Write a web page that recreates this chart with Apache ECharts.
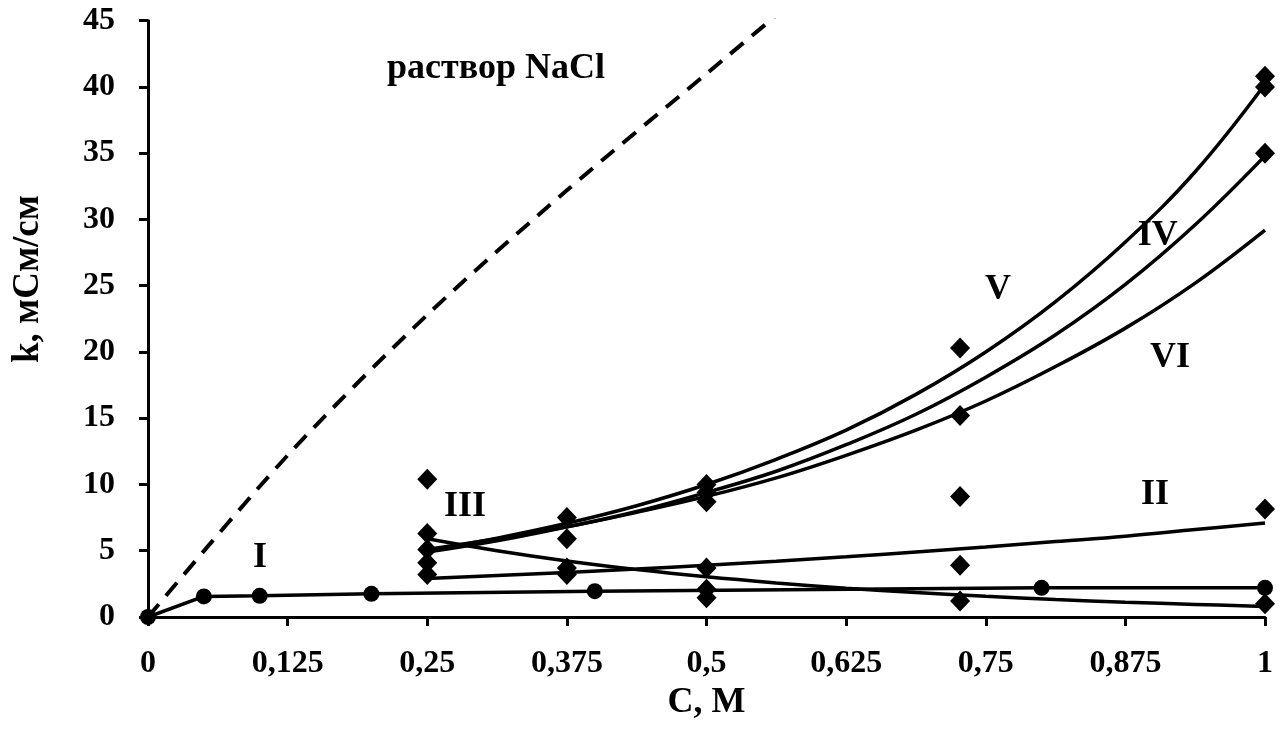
<!DOCTYPE html>
<html>
<head>
<meta charset="utf-8">
<script src="https://cdn.jsdelivr.net/npm/echarts@6/dist/echarts.min.js"></script>
<style>
html,body{margin:0;padding:0;background:#fff;}
#chart{width:1288px;height:729px;}
</style>
</head>
<body>
<div id="chart"></div>
<script>
// ---- data ----
var xTicks = [0, 0.125, 0.25, 0.375, 0.5, 0.625, 0.75, 0.875, 1];
var yTicks = [0, 5, 10, 15, 20, 25, 30, 35, 40, 45];

// NaCl solution (dashed)
var naclX = [0, 0.125, 0.25, 0.375, 0.5, 0.625];
var naclY = [0, 12.2, 22.8, 32.2, 41.0, 49.8];

// Series I (circles, polyline)
var s1X = [0, 0.05, 0.1, 0.2, 0.4, 0.8, 1];
var s1Y = [0, 1.55, 1.6, 1.75, 1.95, 2.2, 2.2];

// trend curves at these concentrations
var curveX   = [0.25, 0.3125, 0.375, 0.4375, 0.5, 0.5625, 0.625, 0.6875, 0.75, 0.8125, 0.875, 0.9375, 1];
var curveII  = [2.9, 3.13, 3.36, 3.62, 3.91, 4.21, 4.54, 4.9, 5.28, 5.69, 6.1, 6.6, 7.1];
var curveIII = [5.9, 5.0, 4.23, 3.58, 3.03, 2.57, 2.17, 1.84, 1.56, 1.32, 1.12, 0.95, 0.8];
var curveIV  = [4.9, 5.75, 6.8, 7.96, 9.4, 11.0, 13.0, 15.3, 18.1, 21.3, 25.1, 29.6, 34.8];
var curveV   = [5.0, 5.95, 7.07, 8.4, 10.0, 11.9, 14.1, 16.8, 20.0, 23.8, 28.3, 33.6, 40.2];
var curveVI  = [5.1, 5.9, 6.8, 7.9, 9.1, 10.5, 12.2, 14.1, 16.3, 18.9, 21.8, 25.2, 29.2];

// measured points (diamonds)
var diaX = [0.25, 0.25, 0.25, 0.25, 0.25,
            0.375, 0.375, 0.375, 0.375,
            0.5, 0.5, 0.5, 0.5, 0.5, 0.5,
            0.727, 0.727, 0.727, 0.727, 0.727,
            1, 1, 1, 1, 1];
var diaY = [10.4, 6.3, 5.1, 4.1, 3.2,
            7.5, 5.9, 3.7, 3.2,
            10.0, 9.4, 8.7, 3.7, 2.1, 1.45,
            20.3, 15.2, 9.1, 3.9, 1.2,
            40.8, 40.0, 35.0, 8.15, 1.0];

// annotation texts and their anchor (data coords)
var noteText = ['раствор NaCl', 'I', 'III', 'II', 'V', 'IV', 'VI'];
var noteX = [0.3115, 0.1003, 0.2838, 0.9015, 0.761, 0.904, 0.915];
var noteY = [41.4, 4.45, 8.3, 9.2, 24.7, 28.8, 19.55];

// ---- build ----
function zip(xs, ys){ return xs.map(function(x,i){ return [x, ys[i]]; }); }
var FONT = '"Liberation Serif", "Times New Roman", serif';
var BLACK = '#000';

function curve(ys){
  return {
    type:'line', data: zip(curveX, ys), smooth:0.4, showSymbol:false,
    lineStyle:{color:BLACK, width:3.5}, silent:true, z:3
  };
}

var chart = echarts.init(document.getElementById('chart'), null, {renderer:'canvas'});
chart.setOption({
  animation:false,
  backgroundColor:'#fff',
  grid:{left:148, right:23, top:20.7, bottom:112, containLabel:false},
  xAxis:{
    type:'value', min:0, max:1, interval:0.125,
    axisLine:{show:true, onZero:false, lineStyle:{color:BLACK, width:3}},
    axisTick:{show:true, inside:false, length:9, lineStyle:{color:BLACK, width:3}},
    splitLine:{show:false},
    axisLabel:{
      color:BLACK, fontFamily:FONT, fontWeight:'bold', fontSize:32, margin:31,
      formatter:function(v){ return xTicks.indexOf(v) >= 0 ? String(v).replace('.', ',') : ''; }
    },
    name:'C, M', nameLocation:'middle', nameGap:66,
    nameTextStyle:{color:BLACK, fontFamily:FONT, fontWeight:'bold', fontSize:36}
  },
  yAxis:{
    type:'value', min:0, max:45, interval:5,
    axisLine:{show:true, onZero:false, lineStyle:{color:BLACK, width:3}},
    axisTick:{show:true, inside:false, length:9, lineStyle:{color:BLACK, width:3}},
    splitLine:{show:false},
    axisLabel:{
      color:BLACK, fontFamily:FONT, fontWeight:'bold', fontSize:32, margin:33,
      formatter:function(v){ return yTicks.indexOf(v) >= 0 ? String(v) : ''; }
    }
  },
  graphic:[{
    type:'text', left:10, top:195, rotation:Math.PI/2,
    style:{text:'k, мСм/см', fill:BLACK, font:'bold 37px ' + FONT}
  }],
  series:[
    {
      type:'line', data: zip(naclX, naclY), smooth:0.3, showSymbol:false,
      lineStyle:{color:BLACK, width:4, type:[17,11]}, silent:true, z:2
    },
    {
      type:'line', data: zip(s1X, s1Y), smooth:false,
      symbol:'circle', symbolSize:16, showSymbol:true,
      itemStyle:{color:BLACK, opacity:1}, lineStyle:{color:BLACK, width:3.5}, z:4
    },
    curve(curveII), curve(curveIII), curve(curveIV), curve(curveV), curve(curveVI),
    {
      type:'scatter', data: zip(diaX, diaY), symbol:'diamond', symbolSize:[20,21],
      itemStyle:{color:BLACK, opacity:1}, z:5
    },
    {
      type:'scatter', data: noteX.map(function(x,i){ return {value:[x, noteY[i]], name:noteText[i]}; }),
      symbolSize:1, itemStyle:{color:'rgba(0,0,0,0)', opacity:1}, silent:true, z:6,
      label:{show:true, position:'inside', formatter:'{b}', color:BLACK, opacity:1,
             fontFamily:FONT, fontWeight:'bold', fontSize:36}
    }
  ]
});
</script>
</body>
</html>
